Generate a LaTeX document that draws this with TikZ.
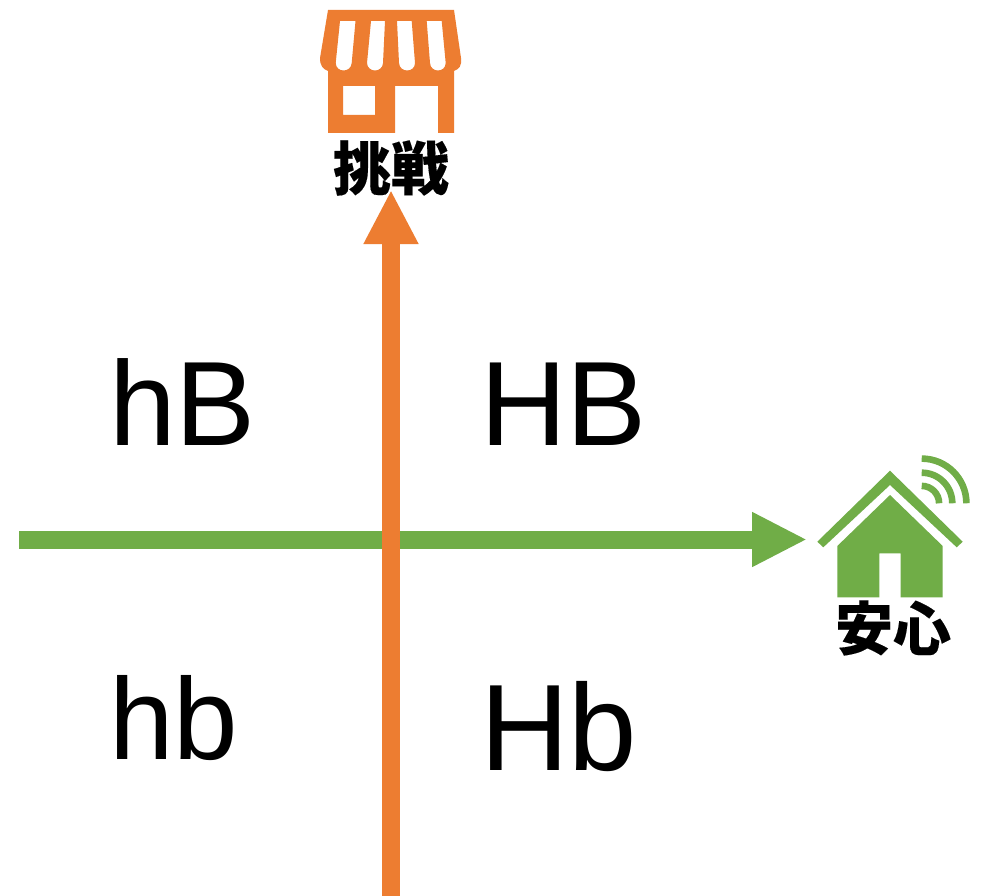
\documentclass[tikz,border=0pt]{standalone}
\usepackage{fontspec}
\setmainfont{Liberation Sans}
\newfontfamily\cjk[BoldFeatures={FakeBold=0.2}]{Noto Sans CJK JP}
\usetikzlibrary{arrows.meta}
\definecolor{shoporange}{HTML}{ED7D31}
\definecolor{homegreen}{HTML}{70AD47}
\tikzset{
  quad/.style={anchor=base west,inner sep=0pt,outer sep=0pt,font=\fontsize{120}{120}\selectfont},
  iconlabel/.style={inner sep=0pt,outer sep=0pt,font=\cjk\bfseries\fontsize{58}{58}\selectfont},
  axisline/.style={line width=18pt},
  wave/.style={homegreen,line width=6.6pt}
}
\begin{document}
\begin{tikzpicture}[x=1pt,y=-1pt]
\useasboundingbox (0,0) rectangle (982,896);
\fill[white] (0,0) rectangle (982,896);

\coordinate (gs) at (19,539.5);
\coordinate (ge) at (807,539.5);
\coordinate (os) at (391,896);
\coordinate (oe) at (391,190);
\draw[axisline,homegreen,-{Triangle[length=55pt,width=51pt]}] (gs) -- (ge);
\draw[axisline,shoporange,-{Triangle[length=54pt,width=51pt]}] (os) -- (oe);

% shop
\fill[shoporange,even odd rule]
  (328,10) -- (454,10) -- (461,58) .. controls (462,66) and (459,69) .. (454,71)
  -- (454,133) -- (438,133) -- (438,86) -- (395,86) -- (395,133) -- (328,133)
  -- (328,71) .. controls (323,69) and (320,66) .. (320,58) -- cycle
  (343,86) -- (375,86) -- (375,115) -- (343,115) -- cycle
  (340,21) -- (355.5,21) -- (351.7,63) .. controls (351,73) and (336,73) .. (335.7,63) -- cycle
  (371,21) -- (385,21) -- (383,63) .. controls (382.5,73) and (367.5,73) .. (367,63) -- cycle
  (397,21) -- (411.7,21) -- (415,63) .. controls (415,73) and (399.5,73) .. (399,63) -- cycle
  (426.7,21) -- (441.7,21) -- (445.7,63) .. controls (445.5,73) and (430.5,73) .. (430,63) -- cycle;
\node[iconlabel] (challenge) at (391,168) {挑戦};

% home
\fill[homegreen] (890,470.7) -- (962.7,541.7) -- (956.7,547.3) -- (890,485) -- (823.3,547.3) -- (817.3,541.7) -- cycle;
\fill[homegreen] (890,495) -- (942.7,546) -- (942.7,597.3) -- (900.7,597.3) -- (900.7,553.3) -- (879.3,553.3) -- (879.3,597.3) -- (837.3,597.3) -- (837.3,546) -- cycle;
\draw[wave] (921.7,458.6) arc[start angle=-90,end angle=0,radius=44.7];
\draw[wave] (921.7,472.7) arc[start angle=-90,end angle=0,radius=30.6];
\draw[wave] (921.7,485.9) arc[start angle=-90,end angle=0,radius=17.4];
\node[iconlabel] (safe) at (893,628) {安心};

\node[quad] (hB) at (109,445) {hB};
\node[quad] (HB) at (480,445) {HB};
\node[quad,font=\fontsize{116}{116}\selectfont] (hb) at (109,759) {hb};
\node[quad,font=\fontsize{123}{123}\selectfont] (Hb) at (480,770) {Hb};
\end{tikzpicture}
\end{document}
